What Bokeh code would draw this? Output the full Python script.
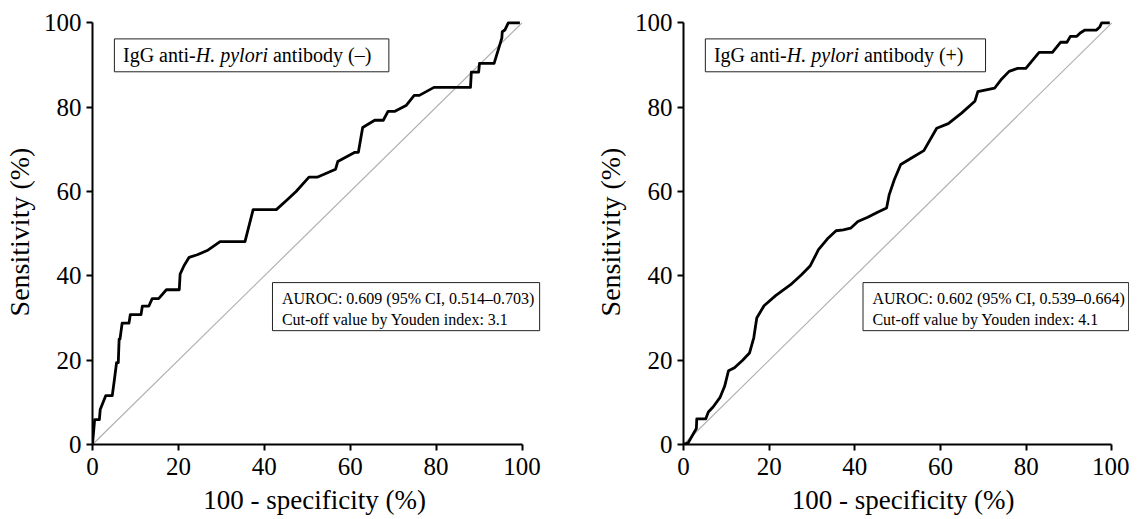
from bokeh.plotting import figure
from bokeh.layouts import row
from bokeh.models import FixedTicker
from bokeh.core.properties import value
from bokeh.embed import file_html
from bokeh.resources import INLINE

# ---- data ----
neg_fpr = [0, 0.5, 1.6, 1.8, 3.1, 4.6, 5.1, 5.6, 6.0, 6.2, 6.4, 6.9, 8.5, 8.8, 11.3, 11.6,
           13.1, 13.9, 15.4, 17.2, 20.2, 20.4, 21.3, 22.5, 24.4, 26.7, 29.7, 35.5, 37.4,
           42.8, 45.4, 47.4, 50.4, 52.3, 56.6, 57.1, 61.1, 61.9, 62.9, 65.7, 67.7, 68.8,
           70.3, 73.0, 74.9, 76.1, 79.5, 88.0, 88.2, 89.9, 90.1, 93.5, 95.3, 95.4, 96.0,
           96.8, 99.5]
neg_tpr = [0, 5.9, 5.9, 8.3, 11.6, 11.6, 15.4, 19.4, 19.4, 25.0, 25.0, 28.8, 28.8, 30.8,
           30.8, 32.8, 32.8, 34.6, 34.6, 36.7, 36.7, 40.4, 42.4, 44.4, 45.0, 46.0, 48.1,
           48.1, 55.7, 55.7, 58.1, 60.0, 63.4, 63.4, 65.3, 67.1, 69.3, 69.3, 75.2, 76.9,
           76.9, 79.0, 79.0, 80.4, 82.8, 82.8, 84.7, 84.7, 88.3, 88.3, 90.4, 90.4, 96.4,
           97.9, 98.3, 100, 100]

pos_fpr = [0, 1.1, 2.0, 3.0, 3.1, 5.2, 5.8, 6.9, 8.5, 9.6, 10.5, 11.9, 13.8, 15.4, 16.4,
           17.1, 18.8, 21.5, 25.0, 27.6, 29.6, 31.5, 33.8, 35.6, 37.3, 39.0, 40.7, 43.0,
           45.3, 47.4, 48.0, 49.2, 50.7, 53.8, 56.1, 59.1, 61.8, 64.9, 68.0, 68.7, 72.6,
           74.1, 76.0, 78.0, 79.9, 83.0, 86.1, 88.0, 89.5, 90.3, 91.8, 92.6, 93.7, 96.4,
           97.2, 97.6, 99.5]
pos_tpr = [0, 0.4, 2.0, 3.8, 6.1, 6.1, 7.7, 8.9, 11.1, 13.8, 17.5, 18.2, 20.0, 21.7, 25.3,
           30.0, 32.9, 35.3, 37.9, 40.3, 42.4, 46.2, 49.0, 50.7, 50.9, 51.3, 52.9, 53.9,
           55.1, 56.1, 59.2, 62.8, 66.4, 68.3, 69.7, 75.0, 76.1, 78.6, 81.4, 83.7, 84.5,
           86.5, 88.5, 89.2, 89.2, 93.0, 93.0, 95.4, 95.4, 96.8, 96.8, 97.6, 98.3, 98.3,
           99.1, 100, 100]

tick_values = [0, 20, 40, 60, 80, 100]
x_label = "100 - specificity  (%)"
y_label = "Sensitivity (%)"
title_parts_neg = ["IgG anti-", "H. pylori", "antibody (–)"]
title_parts_pos = ["IgG anti-", "H. pylori", "antibody (+)"]
stats_neg = ["AUROC: 0.609 (95% CI, 0.514–0.703)", "Cut-off value by Youden index: 3.1"]
stats_pos = ["AUROC: 0.602 (95% CI, 0.539–0.664)", "Cut-off value by Youden index: 4.1"]

SERIF = "Liberation Serif"


def make_panel(fpr, tpr, title_parts, stats, x_end, width, mb_right, tbox_right, sbox_right):
    p = figure(width=width, height=517, x_range=(0, x_end), y_range=(0, 100.8),
               output_backend="svg", toolbar_location=None,
               min_border_left=86, min_border_right=mb_right,
               min_border_top=19, min_border_bottom=72)
    p.outline_line_color = None
    p.xgrid.visible = False
    p.ygrid.visible = False
    p.background_fill_color = "white"
    p.border_fill_color = "white"

    for ax, lab in ((p.xaxis[0], x_label), (p.yaxis[0], y_label)):
        ax.ticker = FixedTicker(ticks=tick_values)
        ax.bounds = (0, 100)
        ax.axis_label = lab
        ax.axis_label_text_font = SERIF
        ax.axis_label_text_font_style = "normal"
        ax.axis_label_text_color = "black"
        ax.major_label_text_font = SERIF
        ax.major_label_text_font_style = "normal"
        ax.major_label_text_font_size = "25px"
        ax.major_label_text_color = "black"
        ax.axis_line_width = 2
        ax.axis_line_color = "black"
        ax.major_tick_line_width = 2
        ax.major_tick_line_color = "black"
        ax.major_tick_out = 6
        ax.major_tick_in = 0
        ax.minor_tick_line_color = None
    p.xaxis[0].axis_label_text_font_size = "27px"
    p.yaxis[0].axis_label_text_font_size = "28px"
    p.xaxis[0].major_label_standoff = 7
    p.xaxis[0].axis_label_standoff = 7
    p.yaxis[0].major_label_standoff = 5
    p.yaxis[0].axis_label_standoff = 6

    # reference diagonal
    p.line([0, 100], [0, 100], line_color="#b0b0b0", line_width=1.2)
    # ROC curve
    p.line(fpr, tpr, line_color="black", line_width=2.8, line_join="round")

    # title box
    p.quad(left=[5.1], right=[tbox_right], bottom=[88.4], top=[96.2],
           fill_color="white", line_color="#222222", line_width=1)
    offsets = [0, 72.8, 150]
    styles = ["normal", "italic", "normal"]
    for t, off, st in zip(title_parts, offsets, styles):
        p.text(x=[7.1], y=[92.3], text=[t], x_offset=off,
               text_font=value(SERIF), text_font_size="20px", text_font_style=st,
               text_color="black", text_align="left", text_baseline="middle")

    # stats box
    p.quad(left=[41.9], right=[sbox_right], bottom=[27.0], top=[38.4],
           fill_color="white", line_color="#222222", line_width=1)
    p.text(x=[44.1, 44.1], y=[34.6, 29.6], text=stats,
           text_font=value(SERIF), text_font_size="16px",
           text_color="black", text_align="left", text_baseline="middle")
    return p


p1 = make_panel(neg_fpr, neg_tpr, title_parts_neg, stats_neg, 105, 591, 48, 69.0, 104.1)
p2 = make_panel(pos_fpr, pos_tpr, title_parts_pos, stats_pos, 104.1, 538, 0, 70.5, 103.9)

layout = row(p1, p2)
open("out.html", "w").write(file_html(layout, INLINE))
